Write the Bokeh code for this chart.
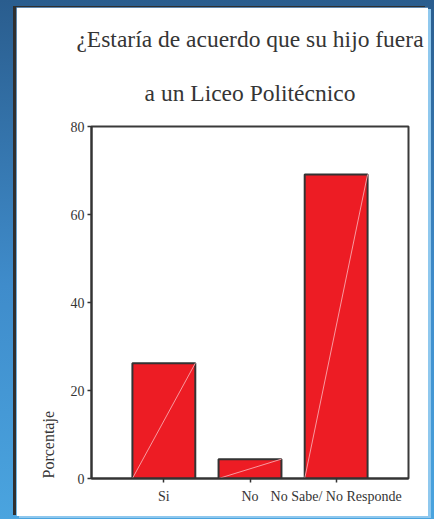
from bokeh.plotting import figure
from bokeh.models import Range1d, FactorRange, Title, ColumnDataSource, GlobalInlineStyleSheet
from bokeh.transform import dodge
from bokeh.embed import file_html
from bokeh.resources import INLINE

# ---- data ----
categories = ["Si", "No", "No Sabe/ No Responde"]
porcentaje = [26.2, 4.4, 69.1]
title_lines = ["¿Estaría de acuerdo que su hijo fuera", "a un Liceo Politécnico"]
y_label = "Porcentaje"
y_ticks = [0, 20, 40, 60, 80]

# ---- styles ----
FONT = "Liberation Serif"
TXT = "#353535"
BAR_W = 0.73

src = ColumnDataSource(dict(cat=categories, val=porcentaje, zero=[0] * len(categories)))

p = figure(
    width=412, height=509, output_backend="svg", toolbar_location=None, title=None,
    x_range=FactorRange(factors=categories, range_padding=0.34, range_padding_units="absolute"),
    y_range=Range1d(0, 80),
    min_border_left=75, min_border_right=20, min_border_top=119, min_border_bottom=38,
)
p.styles = {"margin-left": "16px", "margin-top": "7px",
            "box-shadow": "-3px -1px 0 0 #2f2f2f, 3px 2px 0 0 #8fc8ee"}
p.stylesheets = [GlobalInlineStyleSheet(css="html, body { min-height: 100%; background: linear-gradient(to bottom, #2a5d8e, #3f8ccb 55%, #4aa4df) fixed; }")]

p.background_fill_color = "white"
p.border_fill_color = "white"
p.outline_line_color = "#3a3a3a"
p.outline_line_width = 2
p.grid.visible = False

p.vbar(x="cat", top="val", width=BAR_W, source=src,
       fill_color="#ed1c24", line_color="#333333", line_width=2)
p.segment(x0=dodge("cat", -BAR_W / 2, range=p.x_range), y0="zero",
          x1=dodge("cat", BAR_W / 2, range=p.x_range), y1="val",
          source=src, line_color="#f79aa0", line_width=1)

for ax in (p.xaxis[0], p.yaxis[0]):
    ax.axis_line_color = "#333333"
    ax.axis_line_width = 2
    ax.major_tick_line_color = "#333333"
    ax.major_tick_line_width = 1.5
    ax.major_tick_out = 4
    ax.major_tick_in = 0
    ax.minor_tick_out = 0
    ax.minor_tick_in = 0
    ax.major_label_text_font = FONT
    ax.major_label_text_font_size = "14px"
    ax.major_label_text_color = TXT

p.yaxis.ticker = y_ticks
p.yaxis.major_label_standoff = 3
p.xaxis.major_label_standoff = 6

p.add_layout(Title(text=title_lines[1], align="center", text_font=FONT, text_font_size="23.5px",
                   text_font_style="normal", text_color=TXT, standoff=42), "above")
p.add_layout(Title(text=title_lines[0], align="center", text_font=FONT, text_font_size="23.5px",
                   text_font_style="normal", text_color=TXT, standoff=10), "above")
p.add_layout(Title(text=y_label, align="left", text_font=FONT, text_font_size="16px",
                   text_font_style="normal", text_color=TXT, standoff=21), "left")

open("out.html", "w").write(file_html(p, INLINE))
